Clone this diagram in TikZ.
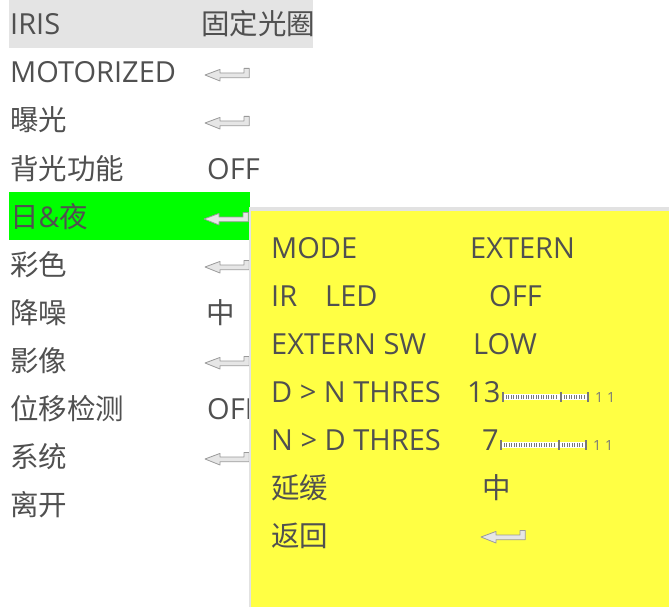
\documentclass[tikz,border=0pt]{standalone}
\usepackage{fontspec}
\setmainfont{Open Sans}
\newfontfamily\cjk{Noto Sans CJK SC}
\definecolor{txt}{HTML}{505050}
\definecolor{hdr}{HTML}{E4E4E4}
\definecolor{sel}{HTML}{00FF00}
\definecolor{panel}{HTML}{FFFF44}
\definecolor{shadow}{HTML}{E2E2E2}
\definecolor{arrowfill}{HTML}{E6E6E6}
\definecolor{arrowline}{HTML}{9A9A9A}
\definecolor{barcol}{HTML}{787878}
\tikzset{
  lbl/.style={anchor=base west, inner sep=0pt, text=txt, font=\fontsize{29}{29}\selectfont},
  zh/.style={anchor=base west, inner sep=0pt, text=txt, font=\fontsize{28.5}{28.5}\selectfont\cjk},
  enterarrow/.pic={\draw[draw=arrowline, fill=arrowfill, line width=0.8pt, line join=round]
     (0,0) -- (15,-5.6) -- (15,-2) -- (39,-2) -- (39,-6.6) -- (44.3,-6.6) -- (44.3,2.7) -- (15,2.7) -- (15,6) -- cycle;},
  slider/.pic={
     \fill[white] (0,2) rectangle (86,8);
     \foreach \t in {4,6.5,...,56} {\draw[barcol, line width=0.6pt] (\t,3) -- (\t,7);}
     \foreach \t in {62,64.5,...,83} {\draw[barcol, line width=0.6pt] (\t,3) -- (\t,7);}
     \fill[barcol] (0,0) rectangle (2,10);
     \fill[barcol] (58,0) rectangle (59.5,10);
     \fill[barcol] (85,0) rectangle (87,10);
     \node[anchor=center, inner sep=0pt, text=barcol, font=\fontsize{14}{14}\selectfont] at (97,5.5) {1};
     \node[anchor=center, inner sep=0pt, text=barcol, font=\fontsize{14}{14}\selectfont] at (109,5.5) {1};
  }
}
\begin{document}
\begin{tikzpicture}[x=1pt, y=-1pt]
\useasboundingbox (0,0) rectangle (669,607);
\fill[white] (0,0) rectangle (669,607);
% header and selection
\fill[hdr] (9,0) rectangle (313,48);
\fill[sel] (9,192) rectangle (250,240);
% main menu labels
\node[lbl] (iris) at (10,35) {IRIS};
\node[zh]  (irisv) at (201,35) {固定光圈};
\node[lbl] (motor) at (10,83) {MOTORIZED};
\pic at (205,75) {enterarrow};
\node[zh]  (expo) at (10,131) {曝光};
\pic at (205,123) {enterarrow};
\node[zh]  (blc) at (10,179) {背光功能};
\node[lbl] (blcv) at (207,179) {OFF};
\node[zh]  (dn) at (10,227) {日\fontspec{Open Sans}\&\cjk 夜};
\pic at (204,219) {enterarrow};
\node[zh]  (color) at (10,275) {彩色};
\pic at (205,267) {enterarrow};
\node[zh]  (nr) at (10,323) {降噪};
\node[zh]  (nrv) at (206,323) {中};
\node[zh]  (img) at (10,371) {影像};
\pic at (205,363) {enterarrow};
\node[zh]  (md) at (10,419) {位移检测};
\node[lbl] (mdv) at (207,419) {OFF};
\node[zh]  (sys) at (10,467) {系统};
\pic at (205,459) {enterarrow};
\node[zh]  (exit) at (10,515) {离开};
% submenu panel
\fill[shadow] (248.5,207) rectangle (669,607);
\fill[panel] (251,211) rectangle (669,607);
\node[lbl] (mode) at (271,258) {MODE};
\node[lbl] (modev) at (470,258) {EXTERN};
\node[lbl] (ir) at (271,306) {IR};
\node[lbl] (led) at (325,306) {LED};
\node[lbl] (irv) at (489,306) {OFF};
\node[lbl] (ext) at (271,354) {EXTERN SW};
\node[lbl] (extv) at (473,354) {LOW};
\node[lbl] (dnt) at (271,402) {D > N THRES};
\node[lbl] (dntv) at (467,402) {13};
\pic at (502,392) {slider};
\node[lbl] (ndt) at (271,450) {N > D THRES};
\node[lbl] (ndtv) at (482,450) {7};
\pic at (500,440) {slider};
\node[zh] (delay) at (271,498) {延缓};
\node[zh] (delayv) at (482,498) {中};
\node[zh] (back) at (271,546) {返回};
\pic at (481,537) {enterarrow};
\end{tikzpicture}
\end{document}
